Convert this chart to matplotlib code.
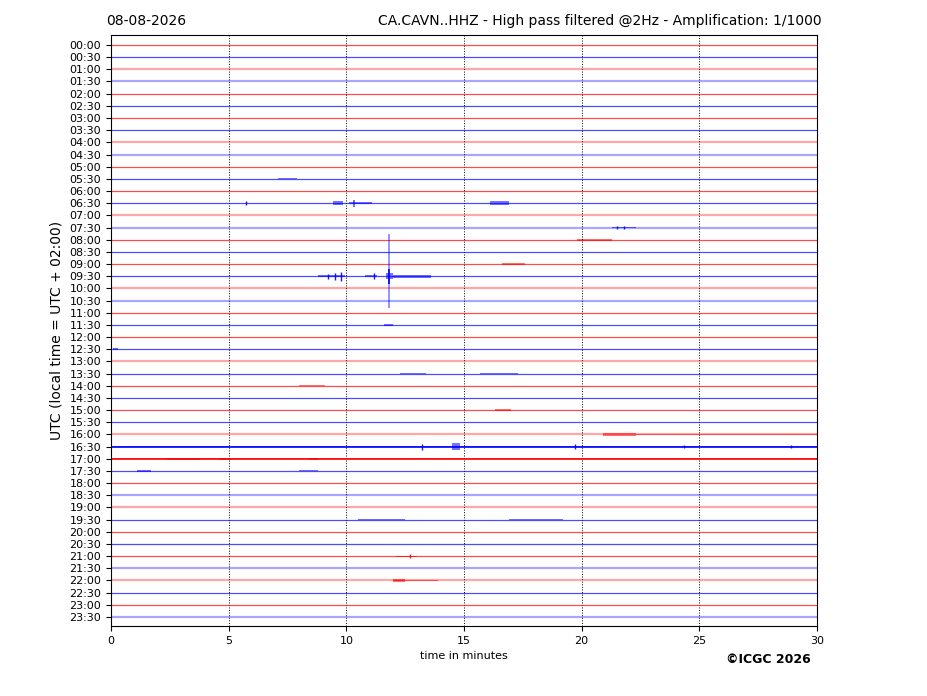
import numpy as np
import matplotlib
matplotlib.use('Agg')
import matplotlib.pyplot as plt

# helicorder rows: 48 half-hour traces
row_labels = ['%02d:%02d' % (h, m) for h in range(24) for m in (0, 30)]

# background noise level per row (0 = quiet, 1 = noisy/fuzzy, 2 = very noisy)
row_noise = [0, 0, 1, 1, 0, 0, 0, 0, 1, 1, 0, 0, 0, 0, 1, 1,
             0, 0, 0, 0, 1, 1, 0, 0, 0, 0, 1, 0, 0, 0, 0, 0,
             1, 2, 2, 0, 0, 1, 1, 0, 0, 0, 0, 1, 1, 0, 0, 1]

# events: (row, start minute, end minute, half amplitude in row units)
events = [
    (11, 7.1, 7.9, 0.05),
    (13, 5.72, 5.72, 0.18),
    (13, 9.45, 9.85, 0.14),
    (13, 10.1, 11.1, 0.10),
    (13, 10.3, 10.35, 0.28),
    (13, 16.1, 16.9, 0.16),
    (15, 21.3, 22.3, 0.07),
    (15, 21.5, 21.5, 0.16),
    (15, 21.8, 21.8, 0.14),
    (16, 19.8, 21.3, 0.07),
    (18, 16.6, 17.6, 0.08),
    (19, 8.8, 9.95, 0.10),
    (19, 9.24, 9.24, 0.22),
    (19, 9.53, 9.53, 0.28),
    (19, 9.76, 9.76, 0.38),
    (19, 10.8, 11.3, 0.08),
    (19, 11.17, 11.17, 0.25),
    (19, 11.7, 12.0, 0.25),
    (19, 12.0, 13.6, 0.13),
    (23, 11.6, 12.0, 0.05),
    (25, 0.1, 0.3, 0.10),
    (27, 12.3, 13.4, 0.05),
    (27, 15.7, 17.3, 0.05),
    (28, 8.0, 9.1, 0.05),
    (30, 16.3, 17.0, 0.08),
    (32, 20.9, 22.3, 0.12),
    (32, 22.3, 30.0, 0.06),
    (33, 0.0, 30.0, 0.07),
    (33, 13.2, 13.2, 0.25),
    (33, 14.5, 14.85, 0.28),
    (33, 19.7, 19.7, 0.20),
    (33, 24.35, 24.35, 0.13),
    (33, 28.9, 28.9, 0.15),
    (34, 0.0, 30.0, 0.05),
    (34, 2.4, 3.8, 0.10),
    (34, 4.6, 5.1, 0.10),
    (34, 8.4, 8.8, 0.08),
    (35, 1.1, 1.7, 0.05),
    (35, 8.0, 8.8, 0.04),
    (39, 10.5, 12.5, 0.05),
    (39, 16.9, 19.2, 0.05),
    (42, 12.1, 13.0, 0.05),
    (42, 12.7, 12.7, 0.15),
    (44, 12.0, 13.9, 0.07),
    (44, 12.0, 12.5, 0.10),
]

# the large local event crossing neighbouring rows: (row, minute, up, down)
big_spike = (19, 11.8, 3.45, 2.63)

date_text = '08-08-2026'
title_text = 'CA.CAVN..HHZ - High pass filtered @2Hz - Amplification: 1/1000'

fig = plt.figure(figsize=(9.27, 6.96), dpi=100)
ax = fig.add_axes([111 / 927, 70 / 696, 706 / 927, 591 / 696])

colors = ['red', 'blue']
for i, lab in enumerate(row_labels):
    c = colors[i % 2]
    n = row_noise[i]
    if n == 0:
        ax.plot([0, 30], [i, i], color=c, lw=0.9, alpha=0.7)
    elif n == 1:
        ax.plot([0, 30], [i, i], color=c, lw=1.6, alpha=0.35)
    else:
        ax.plot([0, 30], [i, i], color=c, lw=1.4, alpha=0.85)

for row, t0, t1, a in events:
    c = colors[row % 2]
    if t0 == t1:
        ax.vlines(t0, row - a, row + a, color=c, lw=1.0, alpha=0.9)
    else:
        ax.fill_between([t0, t1], [row - a, row - a], [row + a, row + a],
                        color=c, alpha=0.55, lw=0)

r, t, up, dn = big_spike
ax.vlines(t, r - up, r + dn, color='blue', lw=1.3, alpha=0.45)
ax.vlines(t, r - 0.6, r + 0.6, color='blue', lw=1.3, alpha=0.9)

ax.set_xlim(0, 30)
ax.set_ylim(47.74, -0.82)
ax.set_yticks(range(len(row_labels)))
ax.set_yticklabels(row_labels, fontsize=8)
ax.set_xticks(range(0, 31, 5))
ax.tick_params(axis='x', labelsize=8)
ax.grid(axis='x', linestyle=':', color='black', lw=0.7)
ax.set_xlabel('time in minutes', fontsize=8)
ax.set_ylabel('UTC (local time = UTC + 02:00)', fontsize=10)

fig.text(106 / 927, 1 - 25 / 696, date_text, fontsize=10, ha='left', va='baseline')
fig.text(822 / 927, 1 - 25 / 696, title_text, fontsize=10, ha='right', va='baseline')
fig.text(811 / 927, 1 - 663 / 696, '\u00a9ICGC 2026', fontsize=9, fontweight='bold',
         ha='right', va='baseline')

fig.savefig('out.png', dpi=100)
